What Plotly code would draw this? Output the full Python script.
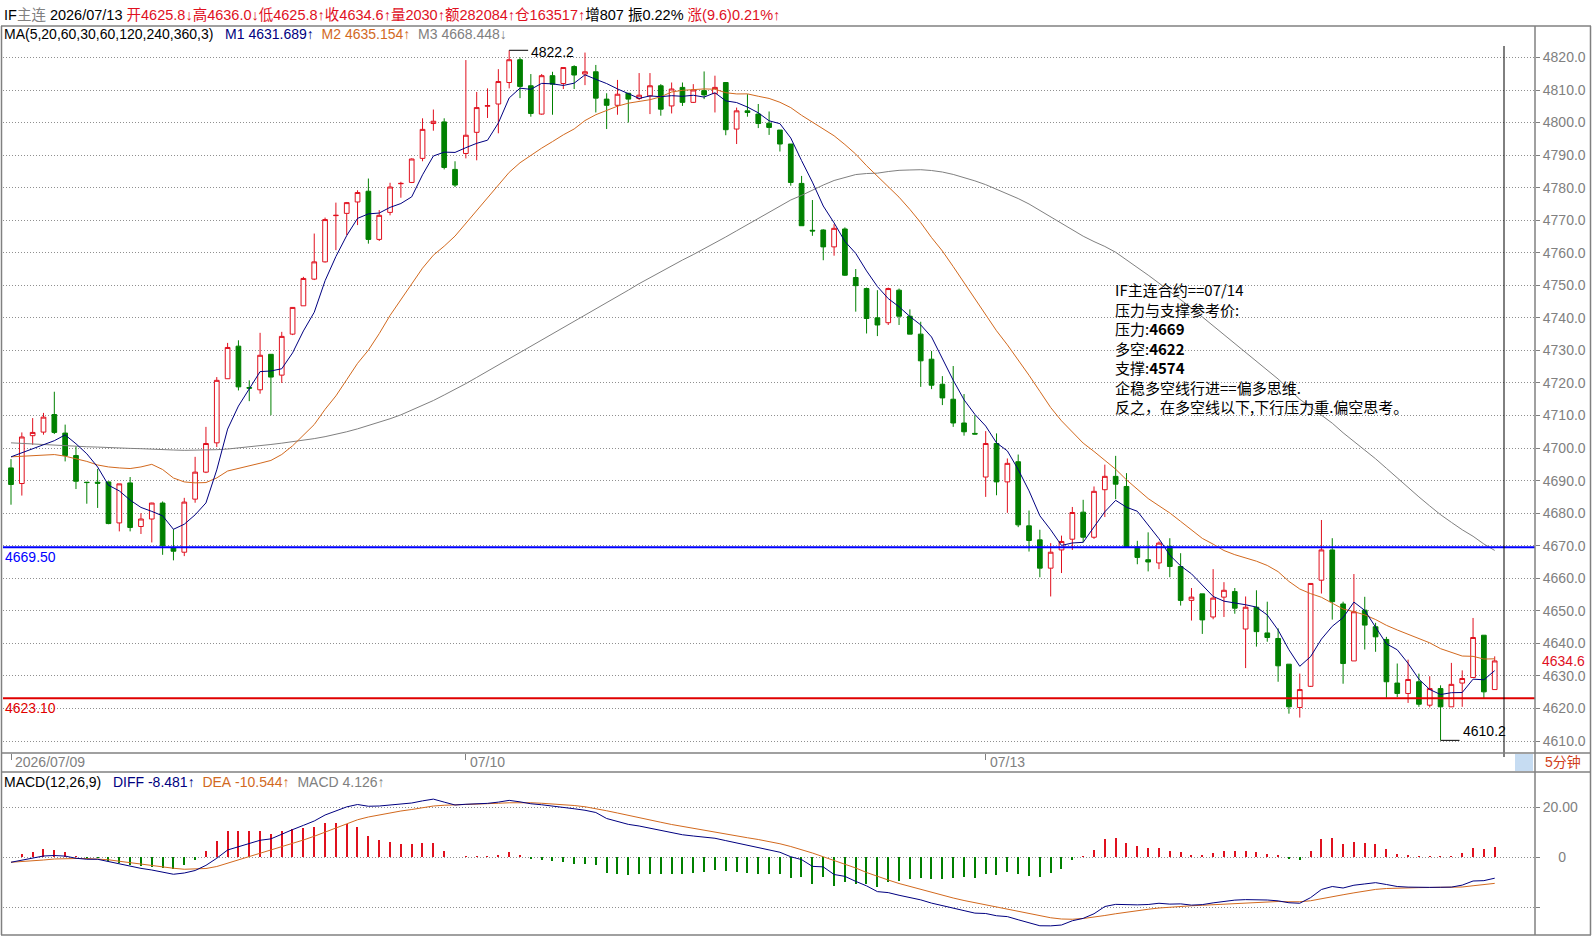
import plotly.graph_objects as go

W, H = 1592, 943

# ---------------- data ----------------
date_tick_idx = [0, 42, 90]
date_tick_text = ["2026/07/09", "07/10", "07/13"]

opens = [
4693.9, 4689.1, 4703.8, 4704.9, 4710.3, 4704.6, 4697.7, 4689.5, 4689.5, 4689.6,
4677.0, 4689.3, 4675.9, 4678.2, 4683.1, 4669.3, 4668.0, 4684.3, 4692.6, 4701.6,
4721.3, 4731.3, 4718.6, 4717.9, 4728.8, 4722.4, 4735.0, 4743.7, 4751.9, 4757.2,
4771.4, 4772.1, 4775.6, 4778.9, 4764.1, 4772.4, 4781.2, 4781.6, 4789.0, 4799.7,
4800.2, 4785.6, 4790.5, 4797.0, 4805.0, 4805.7, 4812.3, 4819.3, 4811.3, 4802.6,
4814.4, 4812.0, 4817.2, 4814.9, 4815.6, 4807.2, 4805.3, 4809.0, 4807.4, 4808.2,
4811.3, 4805.1, 4810.8, 4806.2, 4809.8, 4808.9, 4812.3, 4798.0, 4803.6, 4802.6,
4799.8, 4797.7, 4793.4, 4781.3, 4766.9, 4767.0, 4761.8, 4767.3, 4752.4, 4749.0,
4740.0, 4738.5, 4748.5, 4740.5, 4735.0, 4727.3, 4719.6, 4715.0, 4707.7, 4704.5,
4691.1, 4701.4, 4689.6, 4695.8, 4676.1, 4671.8, 4663.1, 4668.7, 4672.0, 4680.3,
4672.6, 4687.2, 4691.3, 4688.2, 4669.6, 4665.7, 4664.7, 4669.8, 4663.6, 4653.2,
4655.2, 4648.1, 4654.2, 4655.9, 4644.4, 4651.1, 4643.2, 4641.5, 4633.6, 4620.3,
4626.8, 4659.4, 4668.7, 4652.1, 4634.6, 4650.2, 4645.1, 4641.2, 4627.8, 4624.6,
4628.2, 4621.0, 4626.1, 4620.5, 4627.8, 4629.5, 4642.5, 4625.8]

highs = [
4696.6, 4704.8, 4709.2, 4710.8, 4717.3, 4707.2, 4700.5, 4689.6, 4693.6, 4689.7,
4689.0, 4691.1, 4680.0, 4683.2, 4683.6, 4675.1, 4684.7, 4697.3, 4706.5, 4721.8,
4732.3, 4733.1, 4720.8, 4735.4, 4728.8, 4735.7, 4743.2, 4752.6, 4765.9, 4770.8,
4775.4, 4775.6, 4779.2, 4782.8, 4773.1, 4781.5, 4781.8, 4789.0, 4801.3, 4804.0,
4801.3, 4788.1, 4819.2, 4809.4, 4810.5, 4816.4, 4822.2, 4820.0, 4814.9, 4814.9,
4815.6, 4816.9, 4817.6, 4821.5, 4817.7, 4809.0, 4813.1, 4809.0, 4815.2, 4815.2,
4811.8, 4812.3, 4812.3, 4811.8, 4815.7, 4814.4, 4812.3, 4804.6, 4808.7, 4805.7,
4803.4, 4797.7, 4793.4, 4783.6, 4776.2, 4767.2, 4768.8, 4767.8, 4755.0, 4749.3,
4748.5, 4749.3, 4749.0, 4742.6, 4738.8, 4729.8, 4722.1, 4725.2, 4716.6, 4710.1,
4705.2, 4704.5, 4696.8, 4698.0, 4680.8, 4674.9, 4670.8, 4673.1, 4681.9, 4684.1,
4688.2, 4694.9, 4697.6, 4692.3, 4671.5, 4674.1, 4671.3, 4672.3, 4667.7, 4657.0,
4655.2, 4662.8, 4658.8, 4657.0, 4654.4, 4656.3, 4652.8, 4644.6, 4633.6, 4630.7,
4658.4, 4677.9, 4672.3, 4652.8, 4661.3, 4654.3, 4646.3, 4642.0, 4633.8, 4635.0,
4630.7, 4629.9, 4627.1, 4634.0, 4631.7, 4647.8, 4642.5, 4636.0]

lows = [
4682.6, 4685.4, 4701.0, 4704.1, 4704.3, 4695.9, 4687.4, 4682.9, 4681.6, 4676.6,
4674.4, 4674.4, 4673.6, 4671.0, 4667.2, 4665.5, 4666.8, 4683.2, 4692.3, 4700.3,
4721.3, 4717.7, 4714.4, 4716.7, 4710.1, 4720.0, 4734.7, 4743.7, 4751.6, 4757.0,
4760.8, 4765.4, 4768.5, 4762.8, 4763.6, 4771.5, 4776.9, 4781.4, 4788.1, 4797.5,
4785.6, 4780.2, 4789.0, 4788.4, 4801.4, 4796.7, 4810.5, 4807.5, 4801.8, 4802.4,
4802.4, 4810.3, 4810.3, 4811.5, 4803.1, 4798.0, 4802.4, 4800.0, 4806.9, 4802.6,
4802.1, 4802.8, 4805.1, 4806.0, 4807.2, 4803.1, 4796.1, 4793.4, 4801.8, 4798.3,
4796.2, 4791.1, 4780.6, 4768.3, 4765.2, 4757.7, 4759.1, 4752.9, 4741.9, 4735.2,
4734.4, 4737.8, 4737.8, 4735.0, 4718.8, 4718.1, 4713.2, 4706.5, 4703.8, 4704.2,
4685.0, 4685.5, 4680.1, 4675.7, 4668.2, 4660.3, 4654.4, 4661.6, 4668.7, 4671.0,
4672.1, 4678.8, 4684.3, 4669.3, 4664.3, 4662.1, 4662.8, 4660.3, 4651.6, 4647.0,
4642.9, 4647.4, 4648.1, 4649.1, 4632.4, 4639.0, 4640.5, 4628.2, 4618.4, 4617.2,
4626.6, 4655.3, 4647.3, 4627.6, 4634.6, 4638.1, 4637.4, 4623.3, 4623.5, 4621.7,
4620.5, 4620.3, 4610.2, 4620.5, 4620.5, 4629.5, 4623.0, 4625.8]

closes = [
4688.8, 4703.4, 4704.8, 4709.5, 4704.8, 4697.7, 4689.8, 4689.4, 4689.2, 4676.8,
4689.0, 4675.6, 4678.2, 4683.1, 4670.0, 4668.3, 4683.4, 4692.6, 4701.4, 4720.8,
4730.9, 4718.8, 4718.4, 4728.5, 4721.8, 4734.3, 4743.2, 4752.1, 4757.2, 4770.2,
4771.5, 4775.4, 4778.5, 4764.1, 4771.5, 4780.2, 4781.3, 4788.8, 4797.9, 4800.4,
4786.2, 4780.8, 4796.1, 4804.6, 4805.2, 4812.6, 4819.3, 4811.1, 4802.8, 4814.4,
4811.8, 4816.9, 4814.6, 4815.6, 4807.5, 4805.3, 4808.7, 4807.2, 4808.4, 4811.3,
4804.1, 4810.3, 4806.2, 4810.0, 4808.5, 4810.8, 4797.8, 4803.6, 4803.1, 4799.7,
4798.5, 4793.4, 4781.6, 4768.3, 4766.7, 4761.8, 4767.5, 4753.1, 4749.9, 4739.8,
4737.8, 4749.0, 4740.5, 4735.0, 4726.8, 4719.3, 4715.4, 4707.7, 4705.0, 4704.3,
4701.4, 4689.6, 4695.3, 4676.4, 4671.6, 4663.1, 4668.0, 4671.3, 4680.2, 4672.6,
4686.7, 4691.3, 4688.9, 4669.6, 4666.4, 4665.0, 4670.8, 4663.6, 4653.2, 4654.2,
4647.2, 4653.9, 4656.3, 4650.8, 4651.1, 4643.6, 4641.8, 4633.1, 4620.5, 4625.8,
4658.4, 4668.7, 4652.8, 4633.8, 4649.7, 4645.6, 4642.0, 4628.2, 4624.6, 4628.9,
4621.3, 4626.1, 4620.5, 4627.4, 4629.2, 4641.8, 4625.1, 4634.6]

ma5 = [
4697.3, 4698.5, 4699.8, 4701.0, 4702.26, 4704.04, 4701.32, 4698.24, 4694.18, 4688.58,
4686.84, 4684.00, 4681.76, 4680.54, 4679.18, 4675.04, 4676.60, 4679.48, 4683.14, 4693.30,
4705.82, 4712.90, 4718.06, 4723.48, 4723.68, 4724.36, 4729.24, 4735.98, 4741.72, 4751.40,
4758.84, 4765.28, 4770.56, 4771.94, 4772.20, 4773.94, 4775.12, 4777.18, 4783.94, 4789.72,
4790.92, 4790.82, 4792.28, 4793.62, 4794.58, 4799.86, 4807.56, 4810.56, 4810.20, 4812.04,
4811.88, 4811.40, 4812.10, 4814.66, 4813.28, 4811.98, 4810.34, 4808.86, 4807.42, 4808.18,
4807.94, 4808.26, 4808.06, 4808.38, 4807.82, 4809.16, 4806.66, 4806.14, 4804.76, 4803.00,
4800.54, 4799.66, 4795.26, 4788.30, 4781.70, 4774.36, 4769.18, 4763.48, 4759.80, 4754.42,
4749.62, 4745.92, 4743.40, 4740.42, 4737.82, 4734.12, 4727.40, 4720.84, 4714.84, 4710.34,
4706.76, 4701.60, 4699.12, 4693.40, 4686.86, 4679.20, 4674.88, 4670.08, 4670.84, 4671.04,
4675.76, 4680.42, 4683.94, 4681.82, 4680.58, 4676.24, 4672.14, 4667.08, 4663.80, 4661.36,
4657.80, 4654.42, 4652.96, 4652.48, 4651.86, 4651.14, 4648.72, 4644.08, 4638.02, 4632.96,
4635.92, 4641.30, 4645.24, 4647.90, 4652.68, 4650.12, 4644.78, 4639.86, 4638.02, 4633.86,
4629.00, 4625.82, 4624.28, 4624.84, 4624.90, 4629.00, 4628.80, 4631.62]

ma20 = [
4697.3, 4697.5, 4697.8, 4698.0, 4698.0, 4697.5, 4696.8, 4695.9, 4694.8, 4694.2,
4693.9, 4693.7, 4694.2, 4695.0, 4693.4, 4690.8, 4689.6, 4689.3, 4689.4, 4690.83,
4692.94, 4693.71, 4694.39, 4695.34, 4696.19, 4698.02, 4700.69, 4703.82, 4707.22, 4711.89,
4716.02, 4721.01, 4726.02, 4730.07, 4735.15, 4740.74, 4745.64, 4750.45, 4755.27, 4759.25,
4762.02, 4765.12, 4769.00, 4772.81, 4776.98, 4780.89, 4784.70, 4787.65, 4789.93, 4792.14,
4794.15, 4796.23, 4798.03, 4800.61, 4802.41, 4803.66, 4805.03, 4805.95, 4806.48, 4807.02,
4807.92, 4809.39, 4809.90, 4810.17, 4810.33, 4810.24, 4809.17, 4808.79, 4808.81, 4808.07,
4807.41, 4806.23, 4804.58, 4802.22, 4800.18, 4798.00, 4795.94, 4793.24, 4790.31, 4786.74,
4783.42, 4780.36, 4777.07, 4773.32, 4769.24, 4764.66, 4760.54, 4755.75, 4750.84, 4746.07,
4741.22, 4736.03, 4731.71, 4727.12, 4722.36, 4717.43, 4712.45, 4708.36, 4704.88, 4701.52,
4698.96, 4696.08, 4693.50, 4690.23, 4687.21, 4684.49, 4682.26, 4680.06, 4677.47, 4674.96,
4672.25, 4670.47, 4668.52, 4667.24, 4666.21, 4665.24, 4663.93, 4662.02, 4659.03, 4656.69,
4655.28, 4654.15, 4652.34, 4650.55, 4649.72, 4648.75, 4647.31, 4645.54, 4644.11, 4642.84,
4641.55, 4640.16, 4638.37, 4637.20, 4636.10, 4636.01, 4635.18, 4635.25]

ma60 = [
4701.6, 4701.4, 4701.3, 4701.1, 4701.0, 4700.8, 4700.6, 4700.4, 4700.3, 4700.1,
4700.0, 4699.9, 4699.8, 4699.6, 4699.5, 4699.4, 4699.3, 4699.3, 4699.4, 4699.5,
4699.7, 4700.0, 4700.3, 4700.7, 4701.1, 4701.5, 4701.9, 4702.4, 4702.9, 4703.5,
4704.2, 4705.0, 4705.9, 4706.9, 4707.9, 4709.0, 4710.2, 4711.6, 4713.0, 4714.6,
4716.3, 4718.0, 4719.8, 4721.7, 4723.6, 4725.5, 4727.4, 4729.3, 4731.2, 4733.1,
4735.0, 4736.9, 4738.8, 4740.7, 4742.6, 4744.5, 4746.5, 4748.5, 4750.5, 4752.37,
4754.29, 4756.07, 4757.76, 4759.44, 4761.16, 4763.05, 4764.85, 4766.75, 4768.65, 4770.70,
4772.52, 4774.49, 4776.21, 4777.63, 4779.24, 4780.80, 4782.20, 4783.21, 4784.02, 4784.34,
4784.45, 4784.95, 4785.32, 4785.43, 4785.51, 4785.26, 4784.80, 4784.06, 4783.19, 4782.09,
4780.92, 4779.49, 4778.11, 4776.65, 4774.98, 4773.03, 4771.14, 4769.18, 4767.22, 4765.09,
4763.43, 4761.94, 4760.15, 4757.90, 4755.59, 4753.13, 4750.66, 4748.20, 4745.70, 4743.03,
4740.29, 4737.57, 4734.94, 4732.19, 4729.58, 4726.89, 4724.11, 4721.20, 4718.07, 4714.98,
4712.55, 4710.19, 4707.64, 4704.70, 4702.05, 4699.30, 4696.70, 4693.78, 4690.80, 4687.96,
4685.00, 4682.22, 4679.53, 4677.18, 4674.89, 4672.89, 4670.52, 4668.54]

macd_diff = [
-2.1, -1.3, -0.55, 0.4, 0.6, 0.35, -0.5, -0.9, -0.9, -1.85,
-2.9, -3.9, -4.55, -5.2, -6.1, -6.9, -6.4, -5.4, -3.35, -0.5,
2.8, 4.1, 5.25, 6.7, 7.25, 9.2, 10.95, 12.65, 14.4, 16.8,
18.5, 20.05, 21.0, 20.3, 20.4, 20.8, 21.0, 21.6, 22.45, 23.15,
21.95, 20.8, 21.1, 21.25, 21.45, 21.95, 22.65, 22.05, 21.3, 20.9,
20.45, 19.95, 19.3, 18.7, 17.8, 15.4, 14.3, 13.05, 12.4, 11.5,
10.5, 9.6, 8.9, 8.4, 7.9, 7.5, 6.55, 5.6, 4.6, 3.7,
2.9, 1.9, 0.1, -1.05, -3.75, -3.95, -7.0, -7.75, -9.75, -11.55,
-13.85, -14.25, -15.3, -16.15, -17.15, -18.45, -19.55, -20.55, -21.45, -22.45,
-22.6, -23.5, -23.85, -25.1, -26.4, -27.5, -27.55, -27.2, -25.5, -24.55,
-22.7, -19.8, -18.95, -19.1, -19.15, -19.0, -18.5, -18.85, -18.75, -19.25,
-19.05, -18.35, -17.65, -17.25, -17.05, -17.05, -17.2, -17.55, -18.3, -18.5,
-16.25, -13.0, -11.8, -12.4, -11.29, -10.78, -10.26, -11.0, -11.8, -12.05,
-12.2, -12.15, -12.1, -12.05, -11.25, -9.6, -9.46, -8.481]

macd_dea = [
-2.1, -1.9, -1.6, -1.2, -0.8, -0.6, -0.6, -0.6, -0.7, -1.1,
-1.7, -2.3, -2.8, -3.3, -3.9, -4.5, -4.9, -4.9, -4.6, -3.8,
-2.5, -1.2, 0.1, 1.4, 2.6, 3.9, 5.3, 6.8, 8.3, 10.0,
11.7, 13.4, 14.9, 16.0, 16.9, 17.7, 18.4, 19.0, 19.7, 20.4,
20.7, 20.8, 21.0, 21.2, 21.3, 21.5, 21.7, 21.8, 21.7, 21.5,
21.3, 21.0, 20.6, 20.1, 19.4, 18.5, 17.6, 16.6, 15.7, 14.8,
13.9, 13.0, 12.2, 11.5, 10.8, 10.1, 9.3, 8.5, 7.7, 7.0,
6.2, 5.3, 4.2, 3.0, 1.6, 0.1, -1.3, -2.7, -4.4, -6.2,
-7.8, -9.2, -10.6, -11.8, -13.0, -14.1, -15.2, -16.4, -17.4, -18.3,
-19.2, -20.0, -20.8, -21.7, -22.7, -23.6, -24.3, -24.8, -24.9, -24.6,
-24.1, -23.4, -22.7, -22.0, -21.4, -20.9, -20.4, -20.0, -19.7, -19.5,
-19.3, -19.1, -18.8, -18.5, -18.2, -18.0, -17.8, -17.8, -17.9, -17.9,
-17.5, -16.6, -15.7, -15.1, -14.34, -13.63, -12.96, -12.6, -12.4, -12.3,
-12.25, -12.2, -12.15, -12.1, -12.0, -11.5, -11.06, -10.544]

macd_hist = [
0.0, 1.2, 2.1, 3.2, 2.8, 1.9, 0.2, -0.6, -0.4, -1.5,
-2.4, -3.2, -3.5, -3.8, -4.4, -4.8, -3.0, -1.0, 2.5, 6.6,
10.6, 10.6, 10.3, 10.6, 9.3, 10.6, 11.3, 11.7, 12.2, 13.6,
13.6, 13.3, 12.2, 8.6, 7.0, 6.2, 5.2, 5.2, 5.5, 5.5,
2.5, 0.0, 0.2, 0.1, 0.3, 0.9, 1.9, 0.5, -0.8, -1.2,
-1.7, -2.1, -2.6, -2.8, -3.2, -6.2, -6.6, -7.1, -6.6, -6.6,
-6.8, -6.8, -6.6, -6.2, -5.8, -5.2, -5.5, -5.8, -6.2, -6.6,
-6.6, -6.8, -8.2, -8.1, -10.7, -8.1, -11.4, -10.1, -10.7, -10.7,
-12.1, -10.1, -9.4, -8.7, -8.3, -8.7, -8.7, -8.3, -8.1, -8.3,
-6.8, -7.0, -6.1, -6.8, -7.4, -7.8, -6.5, -4.8, -1.2, 0.1,
2.8, 7.2, 7.5, 5.8, 4.5, 3.8, 3.8, 2.3, 1.9, 0.5,
0.5, 1.5, 2.3, 2.5, 2.3, 1.9, 1.2, 0.5, -0.8, -1.2,
2.5, 7.2, 7.8, 5.4, 6.1, 5.7, 5.4, 3.2, 1.2, 0.5,
0.1, 0.1, 0.1, 0.1, 1.5, 3.8, 3.2, 4.126]

resistance_level = 4669.50
pivot_level = 4623.10
price_ticks = [4610, 4620, 4630, 4640, 4650, 4660, 4670, 4680, 4690, 4700, 4710,
               4720, 4730, 4740, 4750, 4760, 4770, 4780, 4790, 4800, 4810, 4820]
macd_ticks = [-20, 0, 20]
macd_tick_text = ["", "\u00a0\u00a0\u00a0\u00a00", "20.00"]

volume, amount, oi, oi_chg = 2030, 282084, 163517, 807
amp_text, chg_text = "0.22%", "(9.6)0.21%"
ma_head = ("4631.689", "4635.154", "4668.448")
macd_head = ("-8.481", "-10.544", "4.126")

note_lines = [
    "IF主连合约==07/14",
    "压力与支撑参考价:",
    "压力:<b>4669</b>",
    "多空:<b>4622</b>",
    "支撑:<b>4574</b>",
    "企稳多空线行进==偏多思维.",
    "反之，在多空线以下,下行压力重.偏空思考。",
]

for arr in (opens, highs, lows, ma5, ma20, ma60, macd_diff, macd_dea, macd_hist):
    assert len(arr) == len(closes), len(arr)

# ---------------- layout geometry (pixels) ----------------
BAR_PX, FIRST_PX = 10.83, 11.0
PLOT_L, PLOT_R = 3, 1535
MAIN_T, MAIN_B = 26, 753
MACD_T, MACD_B = 772, 935
PX_PER_PT, REF_P, REF_Y = 3.255, 4610.0, 741.0
MACD_PX, MACD_ZERO_Y = 2.5, 857.0


def fx(p):
    return p / W


def fy(p):
    return 1 - p / H


x_lo = (PLOT_L - FIRST_PX) / BAR_PX
x_hi = (PLOT_R - FIRST_PX) / BAR_PX
y_lo = REF_P - (MAIN_B - REF_Y) / PX_PER_PT
y_hi = REF_P + (REF_Y - MAIN_T) / PX_PER_PT
m_lo = -(MACD_B - MACD_ZERO_Y) / MACD_PX
m_hi = (MACD_ZERO_Y - MACD_T) / MACD_PX

idx = list(range(len(closes)))

RED = "#E0101E"
GREEN = "#008000"
NAVY = "#000080"
ORANGE = "#D2691E"
GRAY = "#808080"
FONT = "Liberation Sans, Arial, Noto Sans CJK SC, sans-serif"

fig = go.Figure()

fig.add_trace(go.Candlestick(
    x=idx, open=opens, high=highs, low=lows, close=closes,
    increasing=dict(line=dict(color=RED, width=1), fillcolor="white"),
    decreasing=dict(line=dict(color=GREEN, width=1), fillcolor=GREEN),
    whiskerwidth=0, xaxis="x", yaxis="y", hoverinfo="skip"))

for series, col in ((ma60, GRAY), (ma20, ORANGE), (ma5, NAVY)):
    fig.add_trace(go.Scatter(x=idx, y=series, mode="lines",
                             line=dict(color=col, width=1), xaxis="x", yaxis="y",
                             hoverinfo="skip"))

# extreme markers (leader lines)
i_hi = max(idx, key=lambda i: highs[i])
i_lo = min(idx, key=lambda i: lows[i])
lead = 1.75
fig.add_trace(go.Scatter(x=[i_hi, i_hi + lead], y=[highs[i_hi], highs[i_hi]], mode="lines",
                         line=dict(color="black", width=1), xaxis="x", yaxis="y"))
fig.add_trace(go.Scatter(x=[i_lo, i_lo + lead], y=[lows[i_lo], lows[i_lo]], mode="lines",
                         line=dict(color="black", width=1), xaxis="x", yaxis="y"))

# MACD
fig.add_trace(go.Bar(x=idx, y=macd_hist, width=0.11,
                     marker=dict(color=[RED if v >= 0 else GREEN for v in macd_hist],
                                 line=dict(width=0)),
                     xaxis="x2", yaxis="y2", hoverinfo="skip"))
fig.add_trace(go.Scatter(x=idx, y=macd_dea, mode="lines", line=dict(color=ORANGE, width=1),
                         xaxis="x2", yaxis="y2"))
fig.add_trace(go.Scatter(x=idx, y=macd_diff, mode="lines", line=dict(color=NAVY, width=1),
                         xaxis="x2", yaxis="y2"))

grid = dict(showgrid=True, gridcolor="#8f8f8f", griddash="1px,2px", gridwidth=1)

fig.update_layout(
    width=W, height=H, autosize=False,
    margin=dict(l=0, r=0, t=0, b=0),
    paper_bgcolor="white", plot_bgcolor="white",
    showlegend=False, boxgap=0.38, bargap=0, barmode="overlay",
    font=dict(family=FONT, size=14, color="black"),
    xaxis=dict(domain=[fx(PLOT_L), fx(PLOT_R)], range=[x_lo, x_hi], anchor="y",
               showgrid=False, zeroline=False, showticklabels=False,
               tickvals=date_tick_idx, ticks="outside", ticklen=6, tickcolor=GRAY,
               rangeslider=dict(visible=False), fixedrange=True),
    yaxis=dict(domain=[fy(MAIN_B), fy(MAIN_T)], range=[y_lo, y_hi], anchor="x", side="right",
               tickvals=price_ticks, ticktext=[f"{v:.1f}" for v in price_ticks],
               tickfont=dict(size=14, color=GRAY, family=FONT), ticks="outside", ticklen=4,
               tickcolor=GRAY, zeroline=False, **grid),
    xaxis2=dict(domain=[fx(PLOT_L), fx(PLOT_R)], range=[x_lo, x_hi], anchor="y2",
                showgrid=False, zeroline=False, showticklabels=False, ticks=""),
    yaxis2=dict(domain=[fy(MACD_B), fy(MACD_T)], range=[m_lo, m_hi], anchor="x2", side="right",
                tickvals=macd_ticks, ticktext=macd_tick_text,
                tickfont=dict(size=14, color=GRAY, family=FONT), ticks="outside", ticklen=4,
                tickcolor=GRAY, zeroline=False, **grid),
)

shapes = []
# support / resistance lines
shapes.append(dict(type="line", xref="paper", yref="y", x0=fx(PLOT_L), x1=fx(PLOT_R),
                   y0=resistance_level, y1=resistance_level, line=dict(color="#0000FF", width=2),
                   layer="above"))
shapes.append(dict(type="line", xref="paper", yref="y", x0=fx(PLOT_L), x1=fx(PLOT_R),
                   y0=pivot_level, y1=pivot_level, line=dict(color="#E00000", width=2),
                   layer="above"))
# cursor line
shapes.append(dict(type="line", xref="paper", yref="paper", x0=fx(1504), x1=fx(1504),
                   y0=fy(757), y1=fy(46), line=dict(color="black", width=1)))
# frames
for yy in (MAIN_T, MAIN_B, MACD_T, MACD_B):
    shapes.append(dict(type="line", xref="paper", yref="paper", x0=fx(1), x1=fx(1591),
                       y0=fy(yy), y1=fy(yy), line=dict(color=GRAY, width=1.5)))
for xx in (1.5, PLOT_R, 1590.5):
    shapes.append(dict(type="line", xref="paper", yref="paper", x0=fx(xx), x1=fx(xx),
                       y0=fy(MACD_B), y1=fy(MAIN_T), line=dict(color=GRAY, width=1.5)))
# scroll thumb in the date strip
shapes.append(dict(type="rect", xref="paper", yref="paper", x0=fx(1515), x1=fx(1533),
                   y0=fy(771), y1=fy(754), fillcolor="#C6DCF2", line=dict(width=0)))
fig.update_layout(shapes=shapes)


def span(t, c):
    return f'<span style="color:{c}">{t}</span>'


nb = "\u00a0"
row1 = (span("IF", "black") + span("主连", GRAY) + nb + "2026/07/13" + nb +
        span(f"开{opens[-1]:.1f}↓高{highs[-1]:.1f}↓低{lows[-1]:.1f}↑收{closes[-1]:.1f}↑"
             f"量{volume}↑额{amount}↑仓{oi}↑", RED) +
        span(f"增{oi_chg}{nb}振{amp_text}{nb}", "black") + span(f"涨{chg_text}↑", RED))
row2 = ("MA(5,20,60,30,60,120,240,360,3)" + nb * 3 +
        span(f"M1{nb}{ma_head[0]}↑", NAVY) + nb * 2 +
        span(f"M2{nb}{ma_head[1]}↑", ORANGE) + nb * 2 +
        span(f"M3{nb}{ma_head[2]}↓", GRAY))
row3 = ("MACD(12,26,9)" + nb * 3 + span(f"DIFF{nb}{macd_head[0]}↑", NAVY) + nb * 2 +
        span(f"DEA{nb}{macd_head[1]}↑", ORANGE) + nb * 2 +
        span(f"MACD{nb}{macd_head[2]}↑", GRAY))

ann = []


def add_text(text, x, y, xref="paper", yref="paper", xanchor="left", yanchor="middle",
             size=14, color="black", family=FONT, yshift=0, xshift=0):
    ann.append(dict(text=text, x=x, y=y, xref=xref, yref=yref, xanchor=xanchor,
                    yanchor=yanchor, showarrow=False, yshift=yshift, xshift=xshift,
                    align="left", font=dict(size=size, color=color, family=family)))


add_text(row1, fx(2), fy(15), size=14.5)
add_text(row2, fx(2), fy(34))
add_text(row3, fx(2), fy(782))
add_text(f"{resistance_level:.2f}", fx(3), resistance_level, yref="y", color="#0000FF", yshift=-10)
add_text(f"{pivot_level:.2f}", fx(3), pivot_level, yref="y", color="#E00000", yshift=-10)
add_text(f"{highs[i_hi]:.1f}", i_hi + lead, highs[i_hi], xref="x", yref="y", yshift=-2, xshift=1)
add_text(f"{lows[i_lo]:.1f}", i_lo + lead, lows[i_lo], xref="x", yref="y", yshift=9, xshift=1)
add_text(f"{closes[-1]:.1f}", fx(1540), closes[-1], yref="y", color=RED)
add_text("5分钟", fx(1563), fy(762), xanchor="center", color="#D0401A")
for i, t in zip(date_tick_idx, date_tick_text):
    add_text(t, i, fy(762), xref="x", color=GRAY, xshift=2)
# note block: one multi-line text (line pitch ~19.5 px)
add_text("<br>".join(note_lines), fx(1113), fy(277), yanchor="top", size=15,
         family="Noto Sans CJK SC, sans-serif")

fig.update_layout(annotations=ann)

fig.write_html("out.html")
